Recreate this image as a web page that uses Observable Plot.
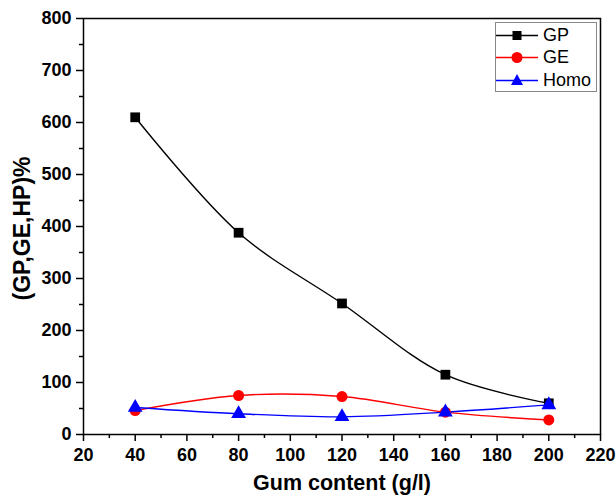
<!DOCTYPE html>
<html><head><meta charset="utf-8">
<script src="https://cdn.jsdelivr.net/npm/d3@7"></script>
<script src="https://cdn.jsdelivr.net/npm/@observablehq/plot@0.6"></script>
<style>
body{margin:0;background:#fff;font-family:"Liberation Sans",Arial,sans-serif;}
#wrap{position:relative;width:616px;height:499px;}
#legend{position:absolute;left:495px;top:22px;width:102px;height:70px;border:1px solid #888;background:#fff;box-sizing:border-box;padding-top:1px;}
#legend div{display:flex;align-items:center;height:22.5px;font-size:18px;}
#legend svg{margin-right:5px;}
</style></head>
<body><div id="wrap"><div id="legend"></div></div>
<script>
const gum = [40, 80, 120, 160, 200];
const gp = [610, 388, 252, 115, 60];
const ge = [46, 75, 73, 43, 28];
const homo = [52, 40, 34, 43, 57];
const seriesNames = ["GP", "GE", "Homo"];
const seriesColors = ["#000000", "#ff0000", "#0000ff"];
const seriesSymbols = ["square", "circle", "triangle"];
const xTicks = [20, 40, 60, 80, 100, 120, 140, 160, 180, 200, 220];
const yTicks = [0, 100, 200, 300, 400, 500, 600, 700, 800];
const xMinor = [30, 50, 70, 90, 110, 130, 150, 170, 190, 210];
const yMinor = [50, 150, 250, 350, 450, 550, 650, 750];

const rows = [];
[gp, ge, homo].forEach((vals, s) => vals.forEach((v, i) => rows.push({x: gum[i], y: v, s: seriesNames[s]})));

const font = {fontSize: 18, fontWeight: "bold"};
const chart = Plot.plot({
  width: 616, height: 499,
  marginLeft: 83, marginRight: 16, marginTop: 18, marginBottom: 65,
  style: {fontFamily: "'Liberation Sans', Arial, sans-serif", background: "#fff", color: "#000"},
  x: {domain: [20, 220]},
  y: {domain: [0, 800]},
  color: {domain: seriesNames, range: seriesColors},
  symbol: {domain: seriesNames, range: seriesSymbols},
  marks: [
    Plot.frame({stroke: "#000", strokeWidth: 1.5}),
    Plot.axisX(xTicks, {tickSize: 7, strokeWidth: 1.5, tickPadding: 7, ...font, label: null}),
    Plot.axisX(xMinor, {tickSize: 4, strokeWidth: 1.5, tickFormat: () => "", label: null}),
    Plot.axisY(yTicks, {tickSize: 7, strokeWidth: 1.5, tickPadding: 5, ...font, label: null}),
    Plot.axisY(yMinor, {tickSize: 4, strokeWidth: 1.5, tickFormat: () => "", label: null}),
    Plot.text(["Gum content (g/l)"], {frameAnchor: "bottom", dy: 55, fontSize: 21.5, fontWeight: "bold"}),
    Plot.text(["(GP,GE,HP)%"], {frameAnchor: "left", textAnchor: "middle", lineAnchor: "middle", dx: -61, dy: 2, rotate: -90, fontSize: 23, fontWeight: "bold"}),
    Plot.line(rows, {x: "x", y: "y", z: "s", stroke: "s", curve: "catmull-rom", strokeWidth: 1.4}),
    Plot.dot(rows, {x: "x", y: "y", fill: "s", symbol: "s", r: 5.5, stroke: "none"})
  ]
});
document.getElementById("wrap").prepend(chart);

const leg = document.getElementById("legend");
seriesNames.forEach((n, i) => {
  const d = document.createElement("div");
  let sym;
  if (seriesSymbols[i] === "square") sym = `<rect x="16.5" y="6" width="9" height="9" fill="${seriesColors[i]}"/>`;
  else if (seriesSymbols[i] === "circle") sym = `<circle cx="21" cy="10.5" r="5.5" fill="${seriesColors[i]}"/>`;
  else sym = `<path d="M21,4 L27,15 L15,15 Z" fill="${seriesColors[i]}"/>`;
  d.innerHTML = `<svg width="42" height="21"><line x1="0" x2="42" y1="10.5" y2="10.5" stroke="${seriesColors[i]}" stroke-width="1.5"/>${sym}</svg><span>${n}</span>`;
  leg.appendChild(d);
});
</script>
</body></html>
